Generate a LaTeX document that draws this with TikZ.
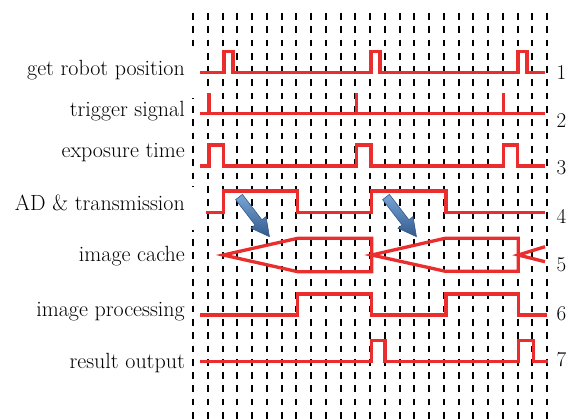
\documentclass[tikz,border=0pt]{standalone}
\usetikzlibrary{calc}
\definecolor{sig}{RGB}{234,45,45}
\definecolor{arrfill}{RGB}{79,129,189}
\definecolor{arrdark}{RGB}{52,90,140}
\definecolor{arrlight}{RGB}{120,165,215}
\tikzset{
  grid/.style={line width=2pt, dash pattern=on 6.7pt off 6.6pt, black},
  signal/.style={sig, line width=3.3pt, line join=miter},
  lbl/.style={anchor=base east, inner sep=0pt, font=\fontsize{22}{26}\selectfont},
  num/.style={anchor=base west, inner sep=0pt, font=\fontsize{21}{25}\selectfont},
  fatarrow/.style={top color=arrlight, bottom color=arrdark, draw=arrdark, line width=0.6pt}
}
\begin{document}
\begin{tikzpicture}[x=1pt,y=-1pt]
\useasboundingbox (0,0) rectangle (577,419);
% dashed grid
\foreach \i in {0,...,24} {
  \draw[grid] ({193+\i*14.75},13) -- ({193+\i*14.75},419);
}
% gaps in first line behind two labels
\fill[white] (187,49) rectangle (199,98);
\fill[white] (187,187) rectangle (199,230);
% labels
\node[lbl] (l1) at (185,76) {get robot position};
\node[lbl] (l2) at (185,116.7) {trigger signal};
\node[lbl] (l3) at (185,157.3) {exposure time};
\node[lbl] (l4) at (185,211) {AD \& transmission};
\node[lbl] (l5) at (185,261.7) {image cache};
\node[lbl] (l6) at (185,316.7) {image processing};
\node[lbl] (l7) at (185,368.3) {result output};
% numbers
\node[num] (n1) at (556.5,80) {1};
\node[num] (n2) at (556.5,127.3) {2};
\node[num] (n3) at (556.5,175) {3};
\node[num] (n4) at (556.5,224) {4};
\node[num] (n5) at (556.5,271.7) {5};
\node[num] (n6) at (556.5,320) {6};
\node[num] (n7) at (556.5,366.7) {7};
% row 1
\draw[signal] (200,72.7) -| (224,51.7) -| (233,72.7) -| (371,51.7) -| (380,72.7) -| (518,51.7) -| (527,72.7) -- (545,72.7);
% row 2
\draw[signal] (200,113.3) -- (545,113.3);
\draw[signal] (209,113.3) -- (209,93.5);
\draw[signal] (356.7,113.3) -- (356.7,93.5);
\draw[signal] (503.3,113.3) -- (503.3,93.5);
% row 3
\draw[signal] (200,166) -| (209,145) -| (223.3,166) -| (356.7,145) -| (371,166) -| (503.3,145) -| (517.7,166) -- (545,166);
% row 4
\draw[signal] (206,212.7) -| (223.3,191) -| (297.7,212.7) -| (371.7,191) -| (446,212.7) -- (545,212.7);
% row 5
\draw[signal] (223.3,255) -- (297.7,238.3) -- (371.7,238.3) -- (371.7,271.7) -- (297.7,271.7) -- cycle;
\draw[signal] (371.7,255) -- (445,238.3) -- (518.3,238.3) -- (518.3,271.2) -- (445,271.2) -- cycle;
\draw[signal] (545,246.7) -- (518.3,255) -- (545,261.7);
% row 6
\draw[signal] (200,315) -| (297.7,294) -| (371.7,315) -| (446,294) -| (518.3,315) -- (546.7,315);
% row 7
\draw[signal] (200,361.5) -| (371.7,340.7) -| (385,361.5) -| (518.3,340.7) -| (533.3,361.5) -- (548,361.5);
% blue arrows
\foreach \sx in {239,386} {
  \begin{scope}[shift={(\sx,197)}, rotate=-52.5]
    \path[fatarrow] (0,-4.3) -- (32,-4.3) -- (32,-9.5) -- (50,0) -- (32,9.5) -- (32,4.3) -- (0,4.3) -- cycle;
  \end{scope}
}
\end{tikzpicture}
\end{document}
